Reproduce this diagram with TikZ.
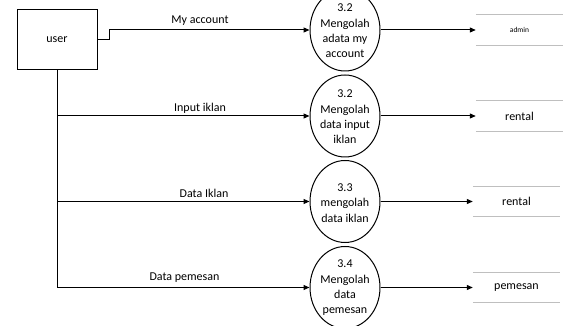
\documentclass[tikz,border=0pt]{standalone}
\usepackage{fontspec}
\setmainfont{Carlito}
\usetikzlibrary{shapes.geometric,arrows.meta}
\tikzset{
  entity/.style={draw, line width=1pt, minimum width=80pt, minimum height=60pt, inner sep=0pt},
  proc/.style={draw, ellipse, line width=1pt, minimum width=70pt, minimum height=82pt, inner sep=0pt},
  proctext/.style={align=center, inner sep=0pt, font=\fontsize{12pt}{15.3pt}\selectfont},
  storenode/.style={minimum width=87pt, minimum height=30pt, inner sep=0pt},
  storeline/.style={draw=black!25, line width=1.1pt},
  flow/.style={line width=1pt, -{Triangle[length=6pt,width=5pt]}},
  wire/.style={line width=1pt},
  lbl/.style={inner sep=0pt, font=\fontsize{12pt}{14pt}\selectfont}
}
\begin{document}
\begin{tikzpicture}[x=1pt, y=-1pt, font=\fontsize{12pt}{14pt}\selectfont]
\useasboundingbox (0,0) rectangle (563,326);

% external entity
\node[entity] (user) at (57,40) {user};

% processes
\node[proc] (p1) at (345,30) {};
\node[proctext] (p1t) at (345,31) {3.2\\Mengolah\\adata my\\account};
\node[proc] (p2) at (345,116) {};
\node[proctext] (p2t) at (345,117) {3.2\\Mengolah\\data input\\iklan};
\node[proc] (p3) at (345,201.5) {};
\node[proctext] (p3t) at (345,203) {3.3\\mengolah\\data iklan};
\node[proc] (p4) at (345,287.5) {};
\node[proctext] (p4t) at (345,288) {3.4\\Mengolah\\data\\pemesan};

% data stores
\node[storenode] (s1) at (519.5,30) {\fontsize{7.5pt}{9pt}\selectfont admin};
\node[storenode] (s2) at (519.5,116) {rental};
\node[storenode] (s3) at (516.5,201.5) {rental};
\node[storenode] (s4) at (516.5,287.5) {pemesan};
\foreach \s in {s1,s2,s3,s4}{
  \draw[storeline] (\s.north west) -- (\s.north east);
  \draw[storeline] (\s.south west) -- (\s.south east);
}

% flows from the user
\draw[flow] (user.east) -- ++(12,0) |- (p1.west);
\draw[wire] (user.south) -- (user.south |- p4.west);
\draw[flow] (user.south |- p2.west) -- (p2.west);
\draw[flow] (user.south |- p3.west) -- (p3.west);
\draw[flow] (user.south |- p4.west) -- (p4.west);

% flows into the stores
\draw[flow] (p1.east) -- (s1.west);
\draw[flow] (p2.east) -- (s2.west);
\draw[flow] (p3.east) -- (s3.west);
\draw[flow] (p4.east) -- (s4.west);

% flow labels
\node[lbl] (l1) at (200,21) {My account};
\node[lbl] (l2) at (200,108) {Input iklan};
\node[lbl] (l3) at (204,193) {Data Iklan};
\node[lbl] (l4) at (184.5,278) {Data pemesan};
\end{tikzpicture}
\end{document}
